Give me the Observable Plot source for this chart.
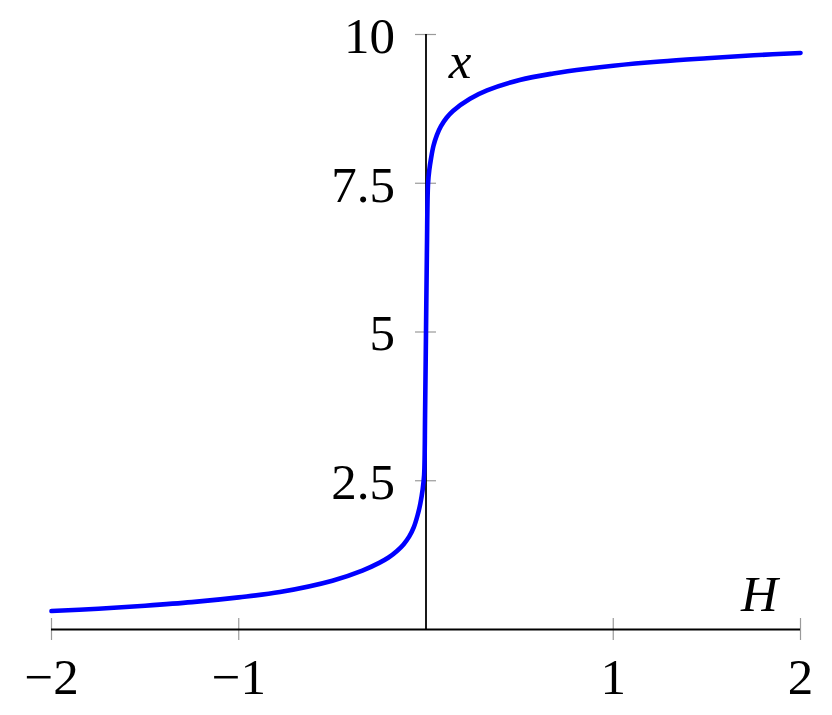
<!DOCTYPE html>
<html>
<head>
<meta charset="utf-8">
<script src="https://cdn.jsdelivr.net/npm/d3@7"></script>
<script src="https://cdn.jsdelivr.net/npm/@observablehq/plot@0.6"></script>
<style>
  html, body { margin: 0; padding: 0; background: #fff; }
  svg { display: block; }
</style>
</head>
<body>
<div id="chart"></div>
<script>
// Curve samples: H (horizontal) and x (vertical)
const hValues = [-2, -1.75, -1.5, -1.25, -1, -0.78, -0.5, -0.34, -0.25, -0.2, -0.155, -0.12, -0.09, -0.065, -0.045, -0.03, -0.018, -0.01, -0.005, 0, 0.005, 0.011, 0.018, 0.027, 0.04, 0.058, 0.08, 0.11, 0.144, 0.235, 0.326, 0.5, 0.68, 0.86, 1, 1.25, 1.5, 1.75, 2];
const xValues = [0.31, 0.35, 0.40, 0.46, 0.54, 0.63, 0.82, 0.99, 1.12, 1.21, 1.32, 1.43, 1.56, 1.72, 1.92, 2.12, 2.35, 2.6, 3.6, 5.0, 6.4, 7.5, 7.73, 7.92, 8.13, 8.31, 8.46, 8.6, 8.715, 8.92, 9.06, 9.235, 9.345, 9.425, 9.475, 9.545, 9.6, 9.65, 9.69];

const xTicks = [-2, -1, 1, 2];
const xTickLabels = ["\u22122", "\u22121", "1", "2"];
const yTicks = [2.5, 5, 7.5, 10];
const yTickLabels = ["2.5", "5", "7.5", "10"];

const curve = hValues.map((h, i) => ({H: h, x: xValues[i]}));
const xTickData = xTicks.map((v, i) => ({v, label: xTickLabels[i]}));
const yTickData = yTicks.map((v, i) => ({v, label: yTickLabels[i]}));

const font = "'Liberation Serif', 'DejaVu Serif', serif";
const fs = 51;

const chart = Plot.plot({
  width: 832,
  height: 715,
  marginLeft: 51,
  marginRight: 32,
  marginTop: 34,
  marginBottom: 86,
  style: {fontFamily: font, background: "white", overflow: "visible"},
  x: {domain: [-2, 2], axis: null},
  y: {domain: [0, 10], axis: null},
  marks: [
    // tick marks crossing the axes
    Plot.ruleX(xTickData, {x: "v", y1: -0.185, y2: 0.185, stroke: "#9a9a9a", strokeWidth: 1.2}),
    Plot.ruleY(yTickData, {y: "v", x1: -0.056, x2: 0.056, stroke: "#9a9a9a", strokeWidth: 1.2}),
    // axis lines
    Plot.ruleY([0], {x1: -2, x2: 2, stroke: "black", strokeWidth: 1.8}),
    Plot.ruleX([0], {y1: 0, y2: 10, stroke: "black", strokeWidth: 1.8}),
    // curve
    Plot.line(curve, {x: "H", y: "x", stroke: "#0000ff", strokeWidth: 4.6, curve: "catmull-rom"}),
    // tick labels
    Plot.text(xTickData, {x: "v", y: () => 0, text: "label", dy: 48, fontSize: fs, fill: "black", textAnchor: "middle", lineAnchor: "middle"}),
    Plot.text(yTickData, {x: () => 0, y: "v", text: "label", dx: -31, dy: 2, fontSize: fs, fill: "black", textAnchor: "end", lineAnchor: "middle"}),
    // axis names
    Plot.text(["x"], {x: () => 0, y: () => 10, text: d => d, dx: 34, dy: 27, fontSize: fs, fontStyle: "italic", fill: "black", textAnchor: "middle", lineAnchor: "middle"}),
    Plot.text(["H"], {x: () => 2, y: () => 0, text: d => d, dx: -41, dy: -35, fontSize: fs, fontStyle: "italic", fill: "black", textAnchor: "middle", lineAnchor: "middle"})
  ]
});
document.getElementById("chart").appendChild(chart);
</script>
</body>
</html>
